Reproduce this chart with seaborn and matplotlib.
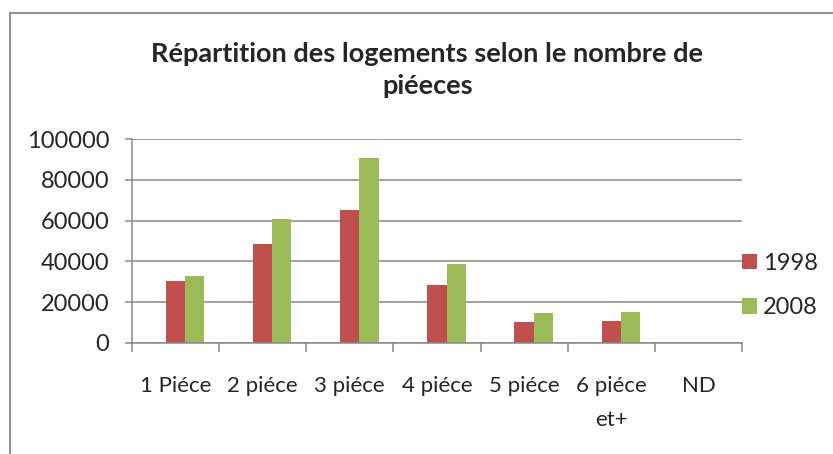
import pandas as pd
import matplotlib
matplotlib.use('Agg')
import matplotlib.pyplot as plt
import seaborn as sns
from matplotlib.patches import Patch
from matplotlib.lines import Line2D

# Data
categories = ['1 Piéce', '2 piéce', '3 piéce', '4 piéce', '5 piéce', '6 piéce\net+', 'ND']
values_1998 = [30500, 48400, 65100, 28200, 10300, 10800, 0]
values_2008 = [32800, 60700, 90700, 38700, 14700, 15100, 0]
years = ['1998', '2008']
colors = ['#C0504D', '#9BBB59']
title = 'Répartition des logements selon le nombre de\npiéeces'

df = pd.DataFrame({
    'cat': categories * 2,
    'year': [years[0]] * len(categories) + [years[1]] * len(categories),
    'value': values_1998 + values_2008,
})

sns.set_theme(style='white')
plt.rcParams['font.family'] = ['Lato', 'DejaVu Sans']

fig = plt.figure(figsize=(8.33, 4.54), dpi=100)
ax = fig.add_axes([0.1581, 0.2452, 0.8911 - 0.1581, 0.6932 - 0.2452])

sns.barplot(data=df, x='cat', y='value', hue='year', hue_order=years,
            palette=colors, saturation=1, width=0.443, linewidth=0,
            ax=ax, legend=False)

# bars sit right of the category centre (as in the original Excel chart)
shift = 0.11
n = len(categories)
ax.set_xlim(-0.5 - shift, n - 0.5 - shift)
ax.set_ylim(0, 100000)
ax.set_yticks(range(0, 100001, 20000))
ax.set_xticks([i - 0.5 - shift for i in range(n + 1)])
ax.set_xticklabels([])
ax.set_xticks([i - shift for i in range(n)], minor=True)
ax.set_xticklabels(categories, minor=True, fontsize=16, linespacing=1.85)
ax.set_xlabel('')
ax.set_ylabel('')

grey = '#878787'
ax.grid(axis='y', color=grey, linewidth=1.1)
ax.set_axisbelow(True)
for s in ['top', 'right']:
    ax.spines[s].set_visible(False)
for s in ['left', 'bottom']:
    ax.spines[s].set_color(grey)
    ax.spines[s].set_linewidth(1.1)
ax.tick_params(axis='x', which='major', direction='out', length=6.5, width=1.1,
               color=grey, bottom=True)
ax.tick_params(axis='x', which='minor', length=0, pad=24, labelsize=16, bottom=True)
ax.tick_params(axis='y', direction='out', length=5, width=1.1, color=grey,
               left=True, pad=11, labelsize=17)

handles = [Patch(facecolor=c, edgecolor='none') for c in colors]
fig.legend(handles, years, loc='center left', bbox_to_anchor=(742 / 833, 0.371),
           frameon=False, fontsize=17, borderpad=0, borderaxespad=0,
           handlelength=0.62, handleheight=0.62, handletextpad=0.25,
           labelspacing=1.0)

fig.text(0.513, 0.846, title, ha='center', va='center', fontsize=19.5,
         fontweight='bold', linespacing=1.38)

# outer chart frame (only left and top edges visible in the crop)
fig.add_artist(Line2D([0.012, 0.012], [0, 0.971], color=grey, linewidth=1.3))
fig.add_artist(Line2D([0.012, 1], [0.971, 0.971], color=grey, linewidth=1.3))

fig.savefig('out.png', dpi=100)
